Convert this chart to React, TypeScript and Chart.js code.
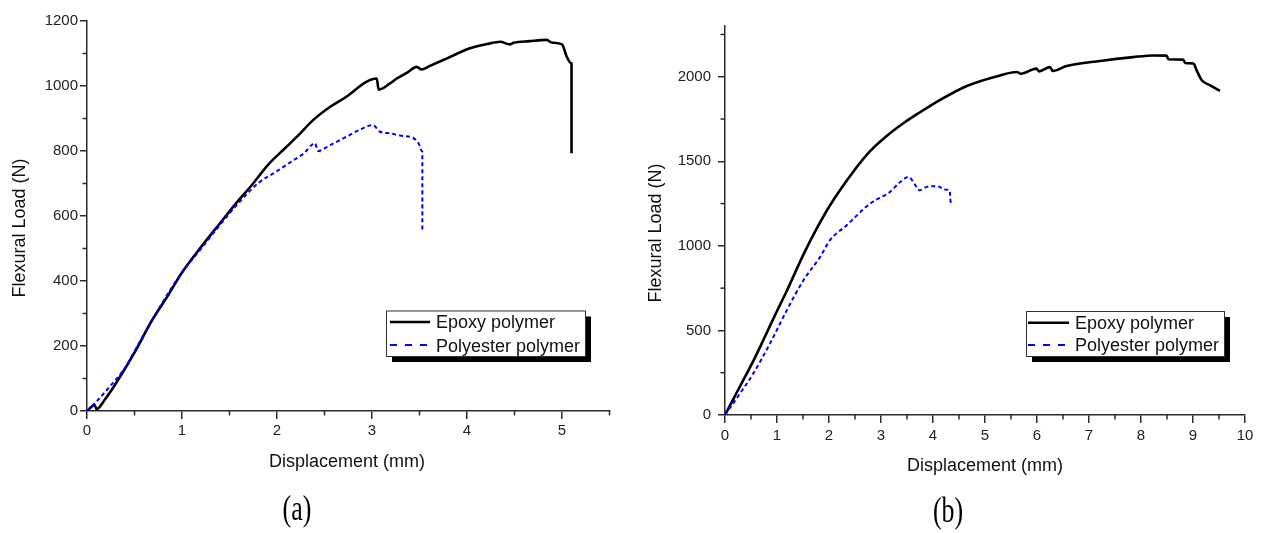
import React, { useEffect, useRef } from 'react';
import { Chart, registerables } from 'chart.js';

Chart.register(...registerables);

// ---------- Panel (a) data ----------
const epoxyA_x = [0, 0.08, 0.10, 0.19, 0.33, 0.51, 0.68, 0.86, 1.00, 1.21, 1.39, 1.56, 1.74, 1.91, 2.09, 2.21, 2.38, 2.56, 2.73, 2.94, 3.05, 3.07, 3.19, 3.26, 3.37, 3.47, 3.52, 3.61, 3.79, 4.03, 4.21, 4.35, 4.45, 4.49, 4.66, 4.84, 4.89, 5.00, 5.05, 5.10, 5.10];
const epoxyA_y = [0, 18, 6, 36, 97, 185, 277, 359, 426, 508, 574, 636, 697, 759, 810, 844, 895, 936, 967, 1013, 1023, 989, 1008, 1023, 1041, 1059, 1051, 1062, 1085, 1116, 1129, 1136, 1128, 1133, 1138, 1142, 1134, 1128, 1090, 1069, 793];
const polyA_x = [0, 0.09, 0.23, 0.40, 0.54, 0.72, 0.89, 1.00, 1.21, 1.39, 1.49, 1.63, 1.81, 2.00, 2.16, 2.28, 2.40, 2.43, 2.56, 2.73, 2.87, 3.01, 3.08, 3.19, 3.33, 3.42, 3.49, 3.53, 3.53];
const polyA_y = [0, 26, 72, 133, 205, 297, 379, 426, 503, 569, 605, 651, 703, 738, 769, 792, 824, 800, 818, 844, 865, 880, 860, 854, 846, 842, 824, 798, 557];

// ---------- Panel (b) data ----------
const epoxyB_x = [0, 0.29, 0.545, 0.74, 1.0, 1.19, 1.51, 1.76, 2.02, 2.47, 2.79, 3.11, 3.43, 3.75, 4.01, 4.65, 5.29, 5.61, 5.69, 5.99, 6.04, 6.25, 6.30, 6.57, 7.21, 7.85, 8.24, 8.49, 8.53, 8.81, 8.85, 9.01, 9.07, 9.17, 9.33, 9.52];
const epoxyB_y = [0, 170, 320, 445, 615, 735, 950, 1100, 1240, 1440, 1560, 1650, 1725, 1790, 1840, 1945, 2008, 2028, 2018, 2048, 2032, 2057, 2034, 2063, 2093, 2116, 2126, 2125, 2103, 2101, 2081, 2078, 2038, 1979, 1949, 1916];
const polyB_x = [0, 0.29, 0.545, 0.865, 1.19, 1.51, 1.83, 2.02, 2.34, 2.79, 3.17, 3.37, 3.53, 3.65, 3.74, 3.88, 4.01, 4.13, 4.20, 4.32, 4.34];
const polyB_y = [0, 128, 246, 423, 620, 797, 935, 1034, 1122, 1250, 1319, 1378, 1408, 1364, 1329, 1349, 1353, 1349, 1333, 1329, 1254];

// ---------- ticks / labels ----------
const xMajorA = [0, 1, 2, 3, 4, 5];
const yMajorA = [0, 200, 400, 600, 800, 1000, 1200];
const xMinorA = [0.5, 1.5, 2.5, 3.5, 4.5, 5.5];
const yMinorA = [100, 300, 500, 700, 900, 1100];
const xMajorB = [0, 1, 2, 3, 4, 5, 6, 7, 8, 9, 10];
const yMajorB = [0, 500, 1000, 1500, 2000];
const xMinorB = [0.5, 1.5, 2.5, 3.5, 4.5, 5.5, 6.5, 7.5, 8.5, 9.5];
const yMinorB = [250, 750, 1250, 1750, 2250];

const SERIES_LABELS = ['Epoxy polymer', 'Polyester polymer'];
const X_TITLE = 'Displacement (mm)';
const Y_TITLE = 'Flexural Load (N)';
const CAPTIONS = ['(a)', '(b)'];

const AXIS = '#2a2a2a';
const SANS = '"Liberation Sans", Arial, sans-serif';

const toPoints = (xs: number[], ys: number[]) => xs.map((x, i) => ({ x, y: ys[i] }));

const decorPlugin = {
  id: 'decor',
  afterDraw(chart: any, _args: any, o: any) {
    const ctx = chart.ctx as CanvasRenderingContext2D;
    const xs = chart.scales.x;
    const ys = chart.scales.y;
    ctx.save();
    // minor ticks
    ctx.strokeStyle = AXIS;
    ctx.lineWidth = 1.5;
    for (const v of o.xMinor) {
      const px = xs.getPixelForValue(v);
      ctx.beginPath();
      ctx.moveTo(px, xs.top);
      ctx.lineTo(px, xs.top + 4.5);
      ctx.stroke();
    }
    for (const v of o.yMinor) {
      const py = ys.getPixelForValue(v);
      ctx.beginPath();
      ctx.moveTo(ys.right, py);
      ctx.lineTo(ys.right - 4.5, py);
      ctx.stroke();
    }
    // axis titles
    ctx.fillStyle = '#111';
    ctx.font = '18px ' + SANS;
    ctx.textAlign = 'center';
    ctx.textBaseline = 'alphabetic';
    ctx.fillText(chart.options.scales.x.title.text, o.xTitle[0], o.xTitle[1]);
    ctx.save();
    ctx.translate(o.yTitle[0], o.yTitle[1]);
    ctx.rotate(-Math.PI / 2);
    ctx.fillText(chart.options.scales.y.title.text, 0, 0);
    ctx.restore();
    // legend
    const L = o.legend;
    ctx.fillStyle = '#000';
    ctx.fillRect(L.x + 6, L.y + 6, L.w, L.h);
    ctx.fillStyle = '#fff';
    ctx.fillRect(L.x, L.y, L.w, L.h);
    ctx.strokeStyle = '#333';
    ctx.lineWidth = 1;
    ctx.strokeRect(L.x + 0.5, L.y + 0.5, L.w, L.h);
    ctx.font = '18px ' + SANS;
    ctx.textAlign = 'left';
    chart.data.datasets.forEach((ds: any, i: number) => {
      const ly = L.lineY[i];
      ctx.beginPath();
      ctx.setLineDash(ds.borderDash && ds.borderDash.length ? [7, 8] : []);
      ctx.strokeStyle = ds.borderColor;
      ctx.lineWidth = ds.borderWidth;
      ctx.moveTo(L.s0, ly);
      ctx.lineTo(L.s1, ly);
      ctx.stroke();
      ctx.setLineDash([]);
      ctx.fillStyle = '#111';
      ctx.fillText(ds.label, L.tx, L.base[i]);
    });
    ctx.restore();
  },
};

function makeConfig(p: any) {
  const tickFont = { family: SANS, size: 15 };
  return {
    type: 'line',
    data: {
      datasets: [
        {
          label: SERIES_LABELS[0],
          data: p.epoxy,
          borderColor: '#000000',
          borderWidth: 2.6,
          pointRadius: 0,
          fill: false,
          order: 2,
          cubicInterpolationMode: 'monotone',
        },
        {
          label: SERIES_LABELS[1],
          data: p.poly,
          borderColor: '#0000ff',
          borderWidth: 2,
          borderDash: [4, 3],
          pointRadius: 0,
          fill: false,
          order: 1,
          cubicInterpolationMode: 'monotone',
        },
      ],
    },
    options: {
      responsive: false,
      maintainAspectRatio: false,
      devicePixelRatio: 1,
      animation: false,
      events: [],
      layout: { padding: { left: 0, top: p.padTop, right: p.padRight, bottom: 0 } },
      plugins: {
        legend: { display: false },
        tooltip: { enabled: false },
        decor: p.decor,
      },
      scales: {
        x: {
          type: 'linear',
          min: 0,
          max: p.xMax,
          title: { display: false, text: X_TITLE },
          ticks: {
            padding: p.xPad,
            color: '#222',
            font: tickFont,
            maxRotation: 0,
            autoSkip: false,
            callback: (v: any) => String(v),
          },
          afterBuildTicks: (s: any) => {
            s.ticks = p.xMajor.map((v: number) => ({ value: v }));
          },
          grid: {
            display: true,
            drawOnChartArea: false,
            drawTicks: true,
            tickLength: 8,
            color: AXIS,
            lineWidth: 1.5,
            tickColor: AXIS,
            tickWidth: 1.5,
          },
          border: { display: true, color: AXIS, width: 1.5 },
          afterFit: (s: any) => {
            s.height = p.xAxisH;
          },
        },
        y: {
          type: 'linear',
          min: 0,
          max: p.yMax,
          title: { display: false, text: Y_TITLE },
          ticks: {
            padding: p.yPad,
            color: '#222',
            font: tickFont,
            autoSkip: false,
            callback: (v: any) => String(v),
          },
          afterBuildTicks: (s: any) => {
            s.ticks = p.yMajor.map((v: number) => ({ value: v }));
          },
          grid: {
            display: true,
            drawOnChartArea: false,
            drawTicks: true,
            tickLength: 7,
            color: AXIS,
            lineWidth: 1.5,
            tickColor: AXIS,
            tickWidth: 1.5,
          },
          border: { display: true, color: AXIS, width: 1.5 },
          afterFit: (s: any) => {
            s.width = p.yAxisW;
          },
        },
      },
    },
    plugins: [decorPlugin],
  } as any;
}

const configA = () =>
  makeConfig({
    epoxy: toPoints(epoxyA_x, epoxyA_y),
    poly: toPoints(polyA_x, polyA_y),
    xMax: 5.5,
    yMax: 1200,
    xMajor: xMajorA,
    yMajor: yMajorA,
    padTop: 21,
    padRight: 21.5,
    xAxisH: 122,
    yAxisW: 87,
    xPad: 3,
    yPad: 2,
    decor: {
      xMinor: xMinorA,
      yMinor: yMinorA,
      xTitle: [347, 466.5],
      yTitle: [25, 228],
      legend: { x: 386, y: 310.5, w: 199, h: 45.5, s0: 390, s1: 430, tx: 436, lineY: [322, 345], base: [328, 351.5] },
    },
  });

const configB = () =>
  makeConfig({
    epoxy: toPoints(epoxyB_x, epoxyB_y),
    poly: toPoints(polyB_x, polyB_y),
    xMax: 10,
    yMax: 2300,
    xMajor: xMajorB,
    yMajor: yMajorB,
    padTop: 26,
    padRight: 17,
    xAxisH: 118,
    yAxisW: 94,
    xPad: 4,
    yPad: 7,
    decor: {
      xMinor: xMinorB,
      yMinor: yMinorB,
      xTitle: [354, 471],
      yTitle: [30, 233],
      legend: { x: 395, y: 311, w: 198, h: 45, s0: 397, s1: 438, tx: 444, lineY: [322.7, 345], base: [329, 351] },
    },
  });

function Panel({ build, left }: { build: () => any; left: number }) {
  const ref = useRef<HTMLCanvasElement>(null);
  useEffect(() => {
    const chart = new Chart(ref.current as HTMLCanvasElement, build());
    return () => chart.destroy();
  }, []);
  return (
    <canvas
      ref={ref}
      width={631}
      height={533}
      style={{ position: 'absolute', left, top: 0, width: 631, height: 533, display: 'block' }}
    />
  );
}

const captionStyle = (cx: number, cy: number): React.CSSProperties => ({
  position: 'absolute',
  left: cx,
  top: cy,
  transform: 'translate(-50%, -50%) scaleX(0.72)',
  fontFamily: '"Liberation Serif", "Times New Roman", serif',
  fontSize: 36,
  lineHeight: 1,
  color: '#000',
  whiteSpace: 'nowrap',
});

export default function App() {
  return (
    <div style={{ position: 'absolute', left: 0, top: 0, width: 1262, height: 533, background: '#fff', overflow: 'hidden' }}>
      <Panel build={configA} left={0} />
      <Panel build={configB} left={631} />
      <div style={captionStyle(297, 508)}>{CAPTIONS[0]}</div>
      <div style={captionStyle(948, 510)}>{CAPTIONS[1]}</div>
    </div>
  );
}
